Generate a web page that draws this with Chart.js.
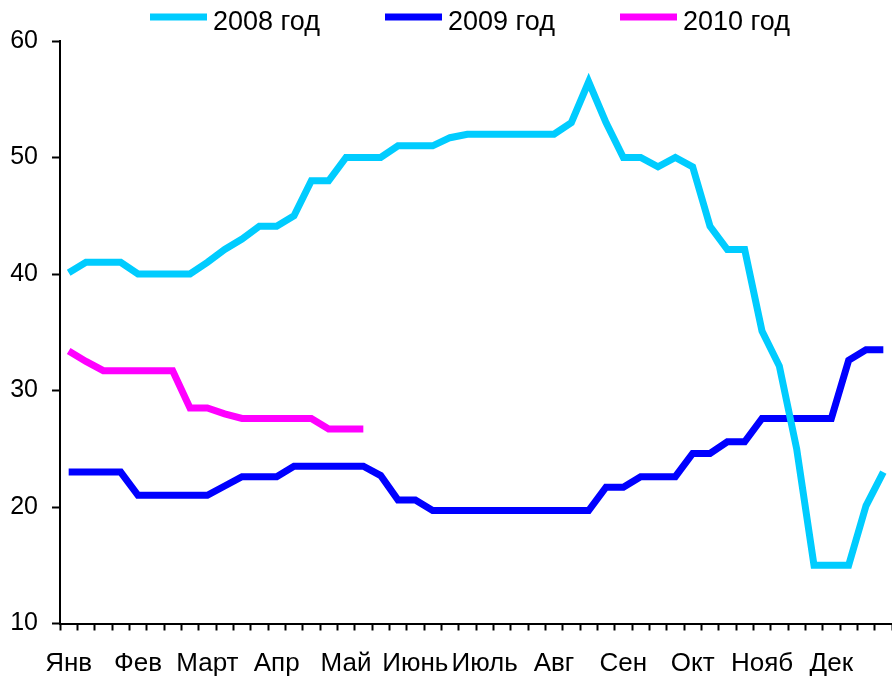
<!DOCTYPE html>
<html>
<head>
<meta charset="utf-8">
<script src="https://cdn.jsdelivr.net/npm/chart.js@4.4.1/dist/chart.umd.min.js"></script>
<style>
  html, body { margin: 0; padding: 0; background: #ffffff; }
  #wrap { width: 892px; height: 680px; }
</style>
</head>
<body>
<div id="wrap"><canvas id="c" width="892" height="680"></canvas></div>
<script>
// ---- data ----
const months = ['Янв', 'Фев', 'Март', 'Апр', 'Май', 'Июнь', 'Июль', 'Авг', 'Сен', 'Окт', 'Нояб', 'Дек'];
const weeksPerMonth = 4;
const categories = months.flatMap(m => [m + ' 1', m + ' 2', m + ' 3', m + ' 4']);

const seriesNames = ['2008 год', '2009 год', '2010 год'];

const values2008 = [40.1, 41, 41, 41, 40, 40, 40, 40, 41, 42.1, 43, 44.1, 44.1, 45, 48, 48,
  50, 50, 50, 51, 51, 51, 51.7, 52, 52, 52, 52, 52, 52, 53, 56.5, 53,
  50, 50, 49.2, 50, 49.2, 44.1, 42.1, 42.1, 35.1, 32.1, 25, 15, 15, 15, 20.1, 23];

const values2009 = [23, 23, 23, 23, 21, 21, 21, 21, 21, 21.8, 22.6, 22.6, 22.6, 23.5, 23.5, 23.5,
  23.5, 23.5, 22.7, 20.6, 20.6, 19.7, 19.7, 19.7, 19.7, 19.7, 19.7, 19.7, 19.7, 19.7, 19.7, 21.7,
  21.7, 22.6, 22.6, 22.6, 24.6, 24.6, 25.6, 25.6, 27.6, 27.6, 27.6, 27.6, 27.6, 32.6, 33.5, 33.5];

const values2010 = [33.4, 32.5, 31.7, 31.7, 31.7, 31.7, 31.7, 28.5, 28.5, 28.0, 27.6, 27.6, 27.6, 27.6, 27.6,
  26.7, 26.7, 26.7];

const yTickValues = [10, 20, 30, 40, 50, 60];

// ---- styles ----
const colors = ['#00CCFF', '#0000FF', '#FF00FF'];
const FONT = '"Liberation Sans", Arial, sans-serif';

const legendPlugin = {
  id: 'topLegend',
  afterDraw(chart, args, opts) {
    const ctx = chart.ctx;
    ctx.save();
    ctx.font = opts.fontSize + 'px ' + FONT;
    ctx.textBaseline = 'alphabetic';
    ctx.textAlign = 'left';
    ctx.fillStyle = '#000';
    chart.data.datasets.forEach((ds, i) => {
      const x = opts.startX + i * opts.pitch;
      ctx.strokeStyle = ds.borderColor;
      ctx.lineWidth = opts.lineHeight;
      ctx.lineCap = 'butt';
      ctx.beginPath();
      ctx.moveTo(x, opts.lineY);
      ctx.lineTo(x + opts.boxWidth, opts.lineY);
      ctx.stroke();
      ctx.fillText(ds.label, x + opts.boxWidth + opts.gap, opts.textY);
    });
    ctx.restore();
  }
};

const mkDs = (label, data, color) => ({
  label, data,
  borderColor: color,
  backgroundColor: color,
  borderWidth: 7,
  pointRadius: 0,
  pointHoverRadius: 0,
  tension: 0,
  fill: false,
  borderJoinStyle: 'miter',
  borderCapStyle: 'butt'
});

new Chart(document.getElementById('c'), {
  type: 'line',
  data: {
    labels: categories,
    datasets: [
      mkDs(seriesNames[0], values2008, colors[0]),
      mkDs(seriesNames[1], values2009, colors[1]),
      mkDs(seriesNames[2], values2010, colors[2])
    ]
  },
  options: {
    responsive: false,
    animation: false,
    devicePixelRatio: 1,
    layout: { padding: { top: 41, right: 0, bottom: 0, left: 0 } },
    plugins: {
      legend: { display: false },
      tooltip: { enabled: false },
      topLegend: { startX: 150, pitch: 235, boxWidth: 57, gap: 6, lineY: 17, textY: 30, lineHeight: 7, fontSize: 27 }
    },
    scales: {
      x: {
        type: 'category',
        offset: true,
        afterFit(scale) { scale.height = 56.5; scale.paddingLeft = 0; scale.paddingRight = 0; },
        grid: {
          offset: true,
          drawOnChartArea: false,
          drawTicks: true,
          tickLength: 7,
          tickWidth: 2,
          tickColor: '#000'
        },
        border: { display: true, color: '#000', width: 2 },
        ticks: {
          autoSkip: false,
          maxRotation: 0,
          minRotation: 0,
          padding: 18,
          color: '#000',
          font: { family: FONT, size: 26, lineHeight: 1.2 },
          callback: (v, i) => (i % weeksPerMonth === 0 ? months[i / weeksPerMonth] : '')
        }
      },
      y: {
        min: yTickValues[0],
        max: yTickValues[yTickValues.length - 1],
        afterFit(scale) { scale.width = 60; scale.paddingTop = 0; scale.paddingBottom = 0; },
        afterBuildTicks(scale) { scale.ticks = yTickValues.map(v => ({ value: v })); },
        grid: {
          drawOnChartArea: false,
          drawTicks: true,
          tickLength: 8,
          tickWidth: 2,
          tickColor: '#000'
        },
        border: { display: true, color: '#000', width: 2 },
        ticks: {
          padding: 14,
          color: '#000',
          font: { family: FONT, size: 25 }
        }
      }
    }
  },
  plugins: [legendPlugin]
});
</script>
</body>
</html>
